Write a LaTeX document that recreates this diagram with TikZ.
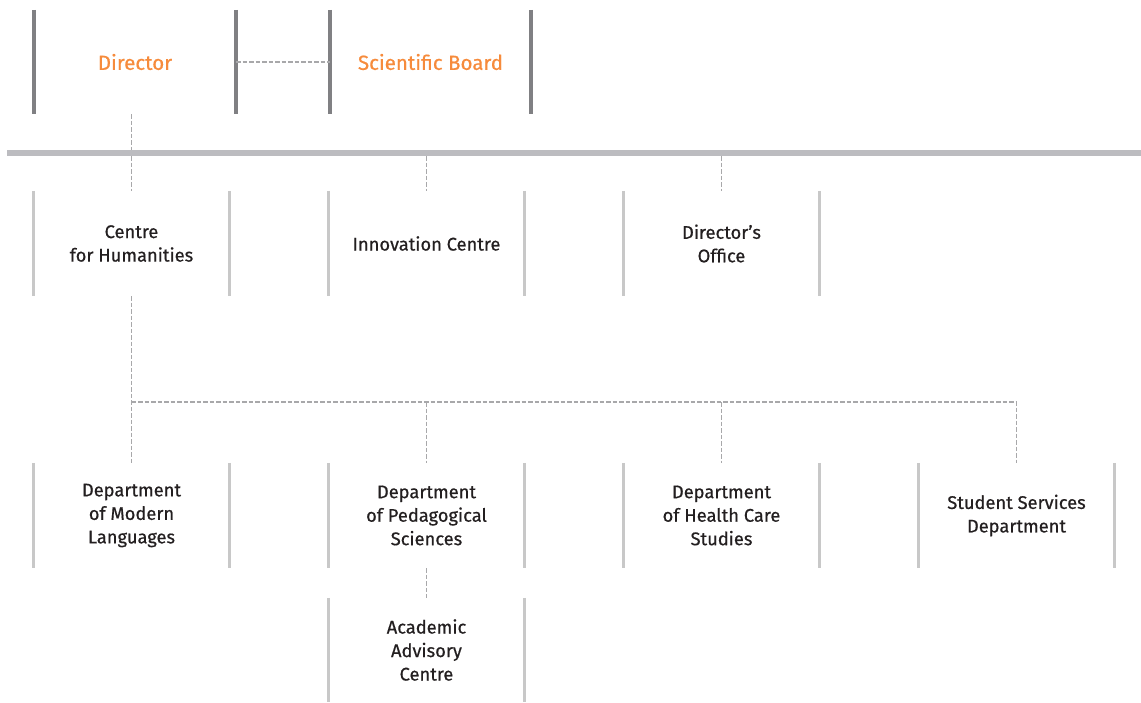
\documentclass[tikz,border=0pt]{standalone}
\usepackage{fontspec}
\setmainfont{Fira Sans}[FakeBold=0.6]
\definecolor{orangetxt}{HTML}{F68B3C}
\definecolor{textcol}{HTML}{231F20}
\definecolor{topbar}{HTML}{808083}
\definecolor{mainbar}{HTML}{BCBCC0}
\definecolor{lowbar}{HTML}{C8C8C8}
\definecolor{dashcol}{HTML}{A8A8AA}
\newcommand\sidebars[3]{\draw[line width=#3, draw=#2] (#1.north west) -- (#1.south west) (#1.north east) -- (#1.south east);}
\begin{document}
\begin{tikzpicture}[x=1pt,y=-1pt,
  unitbox/.style={rectangle, minimum width=195pt, minimum height=105pt, inner sep=0pt, align=center,
    font=\fontsize{18.3}{23.5}\selectfont, text=textcol},
  topbox/.style={unitbox, minimum width=202pt, minimum height=104pt, text=orangetxt,
    font=\fontsize{20.5}{24}\selectfont},
  conn/.style={draw=dashcol, line width=1.2pt, dash pattern=on 4.5pt off 2pt}]
\useasboundingbox (0,0) rectangle (1141,702);
% top
\node[topbox] (dir) at (135,62) {Director};
\node[topbox, minimum width=201pt] (sb) at (430.5,62) {Scientific Board};
\sidebars{dir}{topbar}{4pt}
\sidebars{sb}{topbar}{4pt}
\draw[conn] (dir.east) -- (sb.west);
% main bar
\node[rectangle, fill=mainbar, minimum width=1134pt, minimum height=6pt, inner sep=0pt] (bar) at (574,153) {};
% row 2
\node[unitbox] (ch) at (131.5,243.5) {Centre\\for Humanities};
\node[unitbox] (ic) at (426.5,243.5) {Innovation Centre};
\node[unitbox] (do) at (721.5,243.5) {Director’s\\Office};
% row 3
\node[unitbox] (dml) at (131.5,515.5) {Department\\of Modern\\Languages};
\node[unitbox] (dps) at (426.5,515.5) {Department\\of Pedagogical\\Sciences};
\node[unitbox] (dhc) at (721.5,515.5) {Department\\of Health Care\\Studies};
\node[unitbox] (ssd) at (1016.5,515.5) {Student Services\\Department};
% row 4
\node[unitbox, minimum height=104pt] (aac) at (426.5,650) {Academic\\Advisory\\Centre};
\foreach \n in {ch,ic,do,dml,dps,dhc,ssd,aac} {\sidebars{\n}{lowbar}{3pt}}
% connectors
\coordinate (hub) at (131.5,402);
\draw[conn] (ch.north |- dir.south) -- (ch.north |- bar.north);
\draw[conn] (ch.north |- bar.south) -- (ch.north);
\draw[conn] (ic.north |- bar.south) -- (ic.north);
\draw[conn] (do.north |- bar.south) -- (do.north);
\draw[conn] (ch.south) -- (dml.north);
\draw[conn] (hub) -| (ssd.north);
\draw[conn] (dps.north |- hub) -- (dps.north);
\draw[conn] (dhc.north |- hub) -- (dhc.north);
\draw[conn] (dps.south) -- (aac.north);
\end{tikzpicture}
\end{document}
